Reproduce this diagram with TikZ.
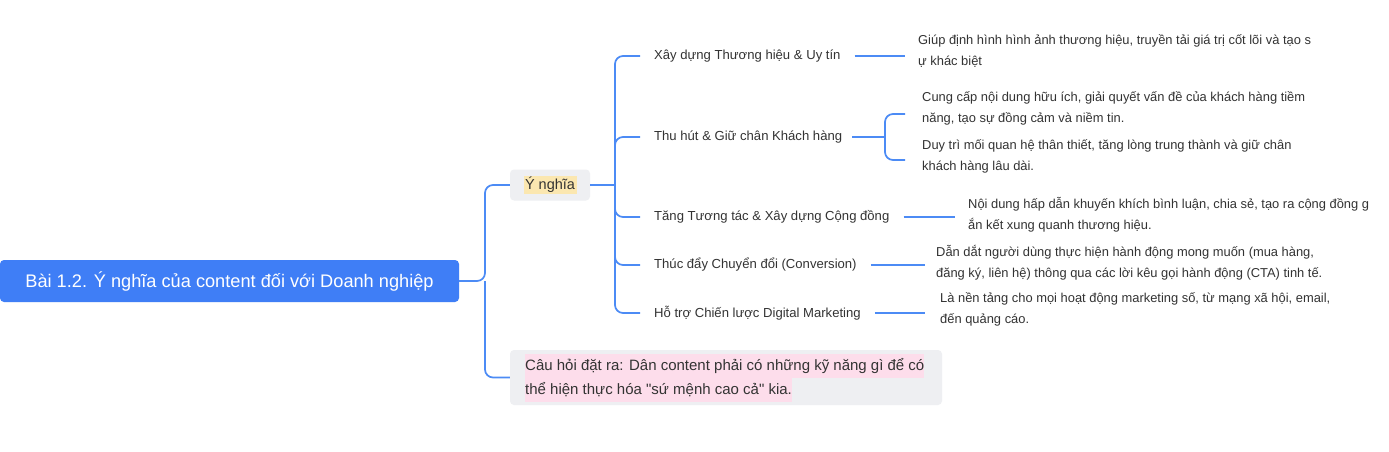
\documentclass[tikz,border=0pt]{standalone}
\usepackage{fontspec}
\setmainfont{Liberation Sans}
\usetikzlibrary{calc}
\definecolor{lb}{HTML}{4C8BF5}
\definecolor{rootc}{HTML}{3F7EF6}
\definecolor{gbox}{HTML}{EEEFF2}
\definecolor{yel}{HTML}{FBE7B0}
\definecolor{pnk}{HTML}{FDDDEB}
\definecolor{tx}{HTML}{333333}
\begin{document}
\begin{tikzpicture}[x=1pt,y=-1pt,
  conn/.style={lb,line width=1.7pt,rounded corners=8pt},
  lbl/.style={anchor=west,inner sep=0pt,text=tx,font=\fontsize{13.1}{15}\selectfont},
  qline/.style={anchor=west,fill=pnk,inner xsep=0pt,inner ysep=0pt,minimum height=24pt,text=tx,font=\fontsize{15}{17}\selectfont},
  desc/.style={anchor=north west,inner sep=0pt,text=tx,align=left,font=\fontsize{12.9}{21}\selectfont}]
\useasboundingbox (0,0) rectangle (1389,452);
\fill[white] (0,0) rectangle (1389,452);
% root
\node[fill=rootc,rounded corners=4pt,minimum width=459pt,minimum height=42pt,text=white,font=\fontsize{18.2}{20}\selectfont,inner sep=0pt] (root) at (229.5,281) {Bài 1.2. Ý nghĩa của content đối với Doanh nghiệp};
% y nghia
\node[fill=gbox,rounded corners=4pt,minimum width=80pt,minimum height=31pt,inner sep=0pt] (yn) at (550,185) {};
\node[fill=yel,inner sep=1.5pt,text=tx,font=\fontsize{14.5}{16}\selectfont] (ynt) at (550,185) {Ý nghĩa};
% question
\node[fill=gbox,rounded corners=4pt,minimum width=432pt,minimum height=55pt,inner sep=0pt] (q) at (726,377.5) {};
\node[qline] (q1) at (525,365.5) {Câu hỏi đặt ra: Dân content phải có những kỹ năng gì để có};
\node[qline] (q2) at (525,389.5) {thể hiện thực hóa \textquotedbl sứ mệnh cao cả\textquotedbl{} kia.};
\draw[conn] (root.east) -- (485,281) |- (yn.west);
\draw[conn] (485,281) |- (q.west);
% level 2 labels
\node[lbl] (a) at (654,56) {Xây dựng Thương hiệu \& Uy tín};
\node[lbl] (b) at (654,137) {Thu hút \& Giữ chân Khách hàng};
\node[lbl] (c) at (654,217) {Tăng Tương tác \& Xây dựng Cộng đồng};
\node[lbl] (d) at (654,265) {Thúc đẩy Chuyển đổi (Conversion)};
\node[lbl] (e) at (654,313) {Hỗ trợ Chiến lược Digital Marketing};
\coordinate (hub) at (615,185);
\foreach \n in {a,b,c,d,e}{
  \draw[conn] (hub) |- ($(\n.west)+(-14,0)$);
}
\draw[lb,line width=2pt] (yn.east) -- (hub);
% descriptions
\node[desc] (a1) at (918,34) {Giúp định hình hình ảnh thương hiệu, truyền tải giá trị cốt lõi và tạo s\\ự khác biệt};
\node[desc] (b1) at (922,91) {Cung cấp nội dung hữu ích, giải quyết vấn đề của khách hàng tiềm\\năng, tạo sự đồng cảm và niềm tin.};
\node[desc] (b2) at (922,139) {Duy trì mối quan hệ thân thiết, tăng lòng trung thành và giữ chân\\khách hàng lâu dài.};
\node[desc] (c1) at (968,197) {Nội dung hấp dẫn khuyến khích bình luận, chia sẻ, tạo ra cộng đồng g\\ắn kết xung quanh thương hiệu.};
\node[desc] (d1) at (936,245) {Dẫn dắt người dùng thực hiện hành động mong muốn (mua hàng,\\đăng ký, liên hệ) thông qua các lời kêu gọi hành động (CTA) tinh tế.};
\node[desc] (e1) at (940,292) {Là nền tảng cho mọi hoạt động marketing số, từ mạng xã hội, email,\\đến quảng cáo.};
% connectors to descriptions
\draw[conn] ($(a.east)+(14,0)$) -- (905,56);
\draw[conn] ($(c.east)+(14,0)$) -- (955,217);
\draw[conn] ($(d.east)+(14,0)$) -- (925,265);
\draw[conn] ($(e.east)+(14,0)$) -- (925,313);
\draw[conn] ($(b.east)+(10,0)$) -- (885,137);
\draw[conn] (885,137) |- (905,114);
\draw[conn] (885,137) |- (905,160);
\end{tikzpicture}
\end{document}
